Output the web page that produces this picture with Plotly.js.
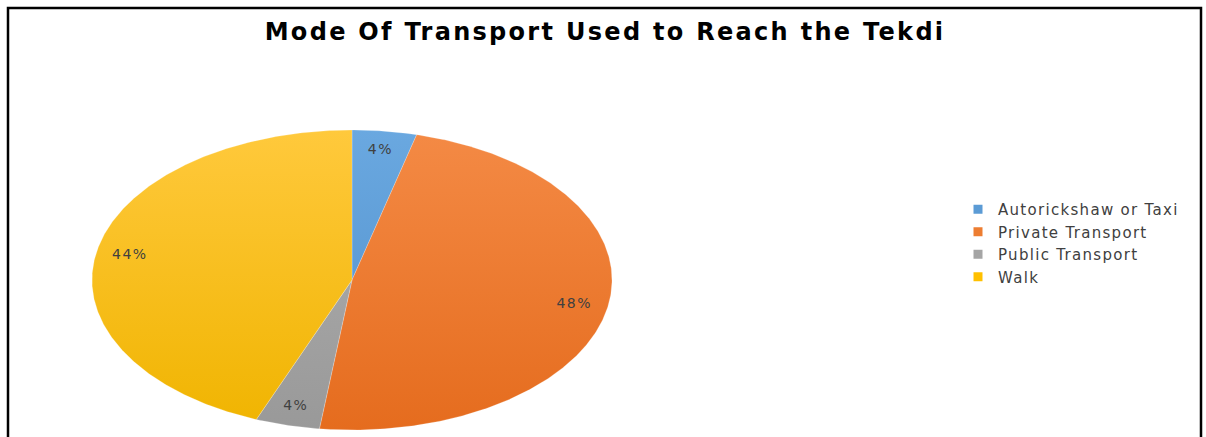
<!DOCTYPE html>
<html>
<head>
<meta charset="utf-8">
<script src="https://cdn.plot.ly/plotly-3.0.1.min.js"></script>
<style>
html,body{margin:0;padding:0;background:#fff;}
#chart{width:1206px;height:437px;}
.gtitle{letter-spacing:2.3px;}
.legendtext{letter-spacing:1.3px;}
.textpoint text{letter-spacing:1.5px;}
</style>
</head>
<body>
<div id="chart"></div>
<script>
// ---- data ----
const categories = ['Autorickshaw or Taxi', 'Private Transport', 'Public Transport', 'Walk'];
const values = [4, 48, 4, 44];
const percentLabels = ['4%', '48%', '4%', '44%'];
const chartTitle = 'Mode Of Transport Used to Reach the Tekdi';

// ---- styles ----
const topColors = ['#6aa8e0', '#f48a45', '#b0b0b0', '#ffc93c'];
const bottomColors = ['#4f8fcb', '#e56c1e', '#999999', '#f0b400'];
const legendColors = ['#5b9bd5', '#ed7d31', '#a5a5a5', '#ffc000'];

const total = values.reduce((a, b) => a + b, 0);
const traces = [];
let acc = 0;
const labelX = [], labelY = [];
values.forEach((v, i) => {
  const a0 = acc / total * 2 * Math.PI;
  const a1 = (acc + v) / total * 2 * Math.PI;
  acc += v;
  const xs = [0], ys = [0];
  const n = Math.max(4, Math.ceil((a1 - a0) / (Math.PI / 360)));
  for (let k = 0; k <= n; k++) {
    const t = a0 + (a1 - a0) * k / n;
    xs.push(Math.sin(t));
    ys.push(Math.cos(t));
  }
  xs.push(0); ys.push(0);
  traces.push({
    type: 'scatter', mode: 'lines', x: xs, y: ys, fill: 'toself',
    fillcolor: legendColors[i],
    fillgradient: {type: 'vertical', start: -1, stop: 1,
      colorscale: [[0, bottomColors[i]], [1, topColors[i]]]},
    line: {width: 0.6, color: 'rgba(255,255,255,0.35)'},
    hoverinfo: 'skip', showlegend: false, xaxis: 'x', yaxis: 'y'
  });
  const mid = (a0 + a1) / 2;
  labelX.push(0.87 * Math.sin(mid));
  labelY.push(0.87 * Math.cos(mid));
});

traces.push({
  type: 'scatter', mode: 'text', x: labelX, y: labelY, text: percentLabels,
  textfont: {family: 'DejaVu Sans, sans-serif', size: 14, color: '#404040'},
  hoverinfo: 'skip', showlegend: false
});

categories.forEach((c, i) => {
  traces.push({
    type: 'scatter', mode: 'markers', x: [null], y: [null], name: c,
    marker: {symbol: 'square', size: 9, color: legendColors[i]},
    showlegend: true
  });
});

const layout = {
  width: 1206, height: 437,
  margin: {l: 0, r: 0, t: 0, b: 0},
  paper_bgcolor: '#ffffff', plot_bgcolor: 'rgba(0,0,0,0)',
  title: {
    text: '<b>' + chartTitle + '</b>',
    x: 0.5017, xanchor: 'center', y: 1 - 32 / 437, yanchor: 'middle',
    font: {family: 'DejaVu Sans, sans-serif', size: 24, color: '#000000'}
  },
  xaxis: {domain: [92 / 1206, 612 / 1206], range: [-1, 1], visible: false, fixedrange: true},
  yaxis: {domain: [7 / 437, 307 / 437], range: [-1, 1], visible: false, fixedrange: true},
  showlegend: true,
  legend: {
    x: 958 / 1206, xanchor: 'left', y: 1 - 193 / 437, yanchor: 'top',
    font: {family: 'DejaVu Sans, sans-serif', size: 15, color: '#404040'},
    bgcolor: 'rgba(0,0,0,0)', tracegroupgap: 0
  },
  shapes: [{
    type: 'rect', xref: 'paper', yref: 'paper',
    x0: 8 / 1206, x1: 1201 / 1206, y0: -0.05, y1: 1 - 8 / 437,
    line: {color: '#000000', width: 2.5}, fillcolor: 'rgba(0,0,0,0)'
  }]
};

Plotly.newPlot('chart', traces, layout, {staticPlot: true, displayModeBar: false});
</script>
</body>
</html>
